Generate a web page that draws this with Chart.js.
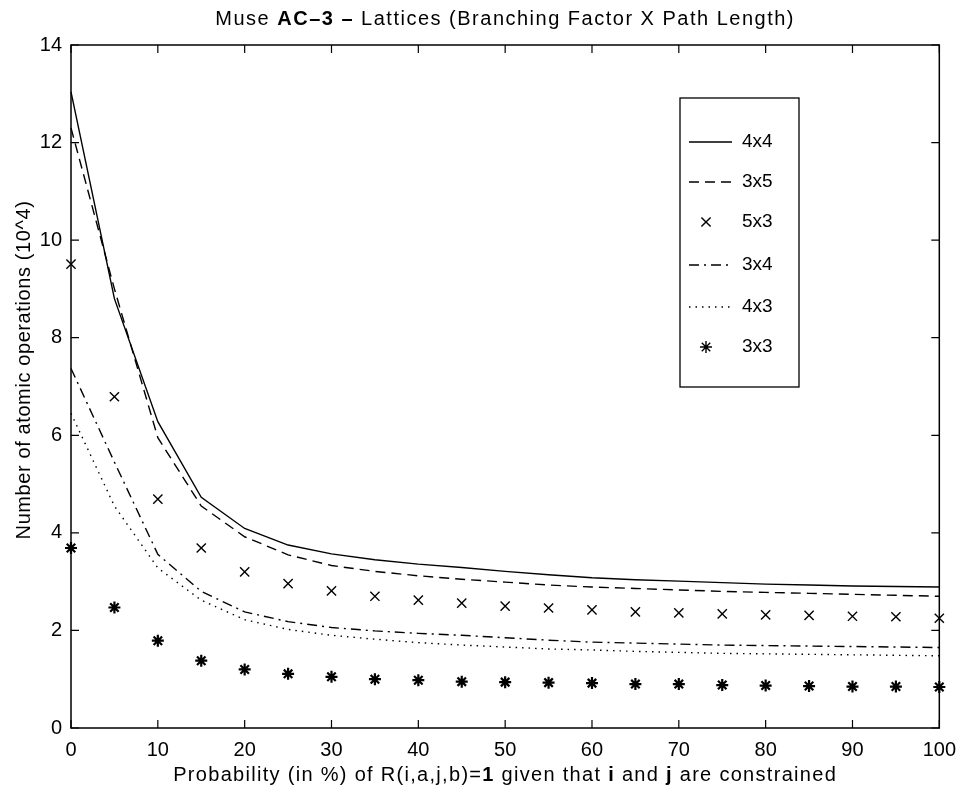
<!DOCTYPE html>
<html><head><meta charset="utf-8">
<script src="https://cdn.jsdelivr.net/npm/chart.js@4.4.1/dist/chart.umd.min.js"></script>
<style>html,body{margin:0;padding:0;background:#fff;} canvas{display:block;}</style>
</head><body>
<canvas id="c" width="966" height="794"></canvas>
<script>
// ---- data ----
const probability = [0,5,10,15,20,25,30,35,40,45,50,55,60,65,70,75,80,85,90,95,100];
const seriesNames = ['4x4','3x5','5x3','3x4','4x3','3x3'];
const s4x4 = [13.04,8.80,6.28,4.73,4.09,3.75,3.57,3.45,3.36,3.29,3.21,3.14,3.08,3.04,3.01,2.98,2.95,2.93,2.91,2.90,2.89];
const s3x5 = [12.30,9.00,5.95,4.55,3.92,3.55,3.33,3.21,3.12,3.05,2.99,2.93,2.89,2.86,2.83,2.80,2.78,2.76,2.74,2.72,2.70];
const s5x3 = [9.51,6.79,4.69,3.69,3.20,2.96,2.81,2.70,2.62,2.56,2.50,2.46,2.42,2.38,2.36,2.34,2.32,2.31,2.29,2.28,2.25];
const s3x4 = [7.37,5.45,3.56,2.80,2.38,2.18,2.06,1.99,1.94,1.90,1.85,1.80,1.76,1.74,1.72,1.70,1.69,1.68,1.67,1.66,1.65];
const s4x3 = [6.45,4.55,3.28,2.62,2.22,2.02,1.90,1.82,1.75,1.70,1.66,1.62,1.60,1.57,1.55,1.53,1.52,1.51,1.50,1.49,1.48];
const s3x3 = [3.69,2.47,1.79,1.38,1.20,1.11,1.05,1.00,0.98,0.95,0.94,0.93,0.92,0.90,0.90,0.88,0.87,0.86,0.85,0.85,0.84];
const xTickStep = 10, xMin = 0, xMax = 100;
const yTickStep = 2, yMin = 0, yMax = 14;

const titleParts = [['Muse ', false], ['AC\u20133 \u2013', true], [' Lattices (Branching Factor X Path Length)', false]];
const xTitleParts = [['Probability (in %) of R(i,a,j,b)=', false], ['1', true], [' given that ', false], ['i', true], [' and ', false], ['j', true], [' are constrained', false]];
const yTitleParts = [['Number of atomic operations (10^4)', false]];

// ---- chart ----
const FONT = '"Liberation Sans", Arial, Helvetica, sans-serif';
const pts = arr => probability.map((x, i) => ({x: x, y: arr[i]}));
const lineDs = (label, arr, dash) => ({
  label, data: pts(arr), borderColor: '#000', backgroundColor: '#000',
  borderWidth: 1.4, borderDash: dash, pointRadius: 0, showLine: true, fill: false, tension: 0
});
const markDs = (label, arr, style, r, bw) => ({
  label, data: pts(arr), borderColor: '#000', backgroundColor: '#000', showLine: false,
  pointStyle: style, pointRadius: r, pointBorderWidth: bw, pointHoverRadius: r
});
const datasets = [
  lineDs(seriesNames[0], s4x4, []),
  lineDs(seriesNames[1], s3x5, [10, 6]),
  markDs(seriesNames[2], s5x3, 'crossRot', 6.5, 1.4),
  lineDs(seriesNames[3], s3x4, [10, 5, 2, 5]),
  lineDs(seriesNames[4], s4x3, [1.5, 5]),
  markDs(seriesNames[5], s3x3, 'star', 6, 2.2)
];

function drawParts(ctx, parts, cx, cy, size, spacing) {
  const sp = spacing || 0;
  let total = 0;
  const widths = parts.map(p => {
    ctx.font = (p[1] ? 'bold ' : '') + size + 'px ' + FONT;
    ctx.letterSpacing = '0px';
    const w = ctx.measureText(p[0]).width + sp * p[0].length; total += w; return w;
  });
  let x = cx - total / 2;
  ctx.textBaseline = 'middle'; ctx.textAlign = 'left'; ctx.fillStyle = '#000';
  parts.forEach((p, i) => {
    ctx.font = (p[1] ? 'bold ' : '') + size + 'px ' + FONT;
    ctx.letterSpacing = sp + 'px';
    ctx.fillText(p[0], x, cy); x += widths[i];
  });
  ctx.letterSpacing = '0px';
}

const framePlugin = {
  id: 'frame',
  afterDatasetsDraw(chart) {
    const ctx = chart.ctx, a = chart.chartArea, xs = chart.scales.x, ys = chart.scales.y;
    ctx.save();
    ctx.strokeStyle = '#000'; ctx.lineWidth = 1.5; ctx.setLineDash([]);
    ctx.strokeRect(a.left, a.top, a.right - a.left, a.bottom - a.top);
    ctx.lineWidth = 1.2;
    const tl = 8;
    ctx.beginPath();
    xs.ticks.forEach(t => {
      const px = xs.getPixelForValue(t.value);
      ctx.moveTo(px, a.bottom); ctx.lineTo(px, a.bottom - tl);
      ctx.moveTo(px, a.top); ctx.lineTo(px, a.top + tl);
    });
    ys.ticks.forEach(t => {
      const py = ys.getPixelForValue(t.value);
      ctx.moveTo(a.left, py); ctx.lineTo(a.left + tl, py);
      ctx.moveTo(a.right, py); ctx.lineTo(a.right - tl, py);
    });
    ctx.stroke();

    // legend box
    const bx = 680, by = 98, bw = 119, bh = 289;
    ctx.fillStyle = '#fff';
    ctx.fillRect(bx, by, bw, bh);
    ctx.lineWidth = 1.3;
    ctx.strokeRect(bx, by, bw, bh);
    const rowY = [142, 182, 222, 265, 307, 347];
    chart.data.datasets.forEach((ds, i) => {
      const y = rowY[i];
      ctx.strokeStyle = '#000'; ctx.fillStyle = '#000';
      if (ds.showLine) {
        ctx.lineWidth = ds.borderWidth;
        ctx.setLineDash(ds.borderDash || []);
        ctx.beginPath(); ctx.moveTo(689, y); ctx.lineTo(732, y); ctx.stroke();
        ctx.setLineDash([]);
      } else {
        Chart.helpers.drawPoint(ctx, {pointStyle: ds.pointStyle, rotation: 0, radius: ds.pointRadius, borderWidth: ds.pointBorderWidth}, 706, y);
      }
      ctx.font = '19px ' + FONT; ctx.textBaseline = 'middle'; ctx.textAlign = 'left';
      ctx.fillText(ds.label, 742, y);
    });

    // titles
    const cx = (a.left + a.right) / 2;
    drawParts(ctx, titleParts, cx, 19, 20, 1.5);
    drawParts(ctx, xTitleParts, cx, 775, 20, 1.3);
    ctx.translate(24, 370); ctx.rotate(-Math.PI / 2);
    drawParts(ctx, yTitleParts, 0, 0, 20, 0.6);
    ctx.restore();
  }
};

new Chart(document.getElementById('c'), {
  type: 'line',
  data: { datasets },
  options: {
    responsive: false, animation: false,
    layout: { padding: { left: 0, top: 45, right: 26, bottom: 26 } },
    plugins: { legend: { display: false }, title: { display: false }, tooltip: { enabled: false } },
    elements: { point: { radius: 0 } },
    clip: false,
    scales: {
      x: {
        type: 'linear', min: xMin, max: xMax,
        ticks: { stepSize: xTickStep, color: '#000', font: { family: FONT, size: 20 }, padding: 10, maxRotation: 0 },
        grid: { display: false, drawTicks: false }, border: { display: false },
        afterFit(s) { s.height = 40; }
      },
      y: {
        type: 'linear', min: yMin, max: yMax,
        ticks: { stepSize: yTickStep, color: '#000', font: { family: FONT, size: 20 }, padding: 9 },
        grid: { display: false, drawTicks: false }, border: { display: false },
        afterFit(s) { s.width = 71; }
      }
    }
  },
  plugins: [framePlugin]
});
</script>
</body></html>
